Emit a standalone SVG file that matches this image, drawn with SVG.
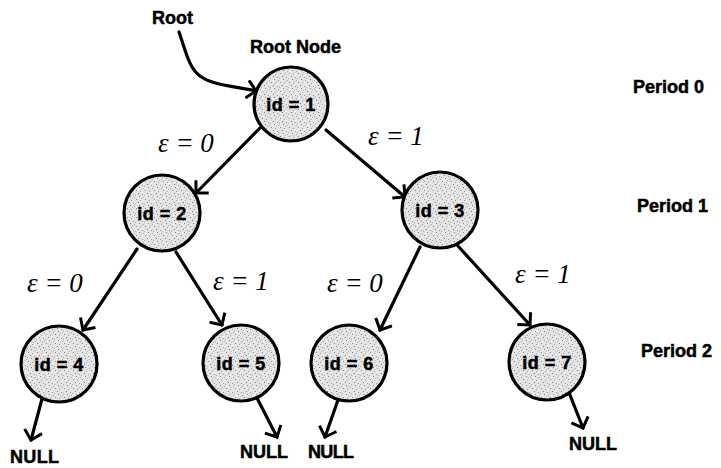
<svg xmlns="http://www.w3.org/2000/svg" width="721" height="468" viewBox="0 0 721 468">
  <defs>
    <!-- speckled grey fill for the tree nodes -->
    <pattern id="speckle" width="9" height="9" patternUnits="userSpaceOnUse">
      <rect width="9" height="9" fill="#e4e4e4"/>
      <rect x="1" y="1" width="1" height="1" fill="#8a8a8a"/>
      <rect x="5" y="2" width="1" height="1" fill="#a0a0a0"/>
      <rect x="3" y="4" width="1" height="1" fill="#7a7a7a"/>
      <rect x="7" y="5" width="1" height="1" fill="#999"/>
      <rect x="0" y="6" width="1" height="1" fill="#b0b0b0"/>
      <rect x="4" y="7" width="1" height="1" fill="#888"/>
      <rect x="8" y="8" width="1" height="1" fill="#a8a8a8"/>
      <rect x="6" y="0" width="1" height="1" fill="#bbb"/>
      <rect x="2" y="8" width="1" height="1" fill="#f8f8f8"/>
      <rect x="7" y="3" width="1" height="1" fill="#fafafa"/>
    </pattern>
    <!-- open right-angled arrowhead -->
    <marker id="head" markerUnits="userSpaceOnUse" viewBox="-1 -1 12 20" refX="9" refY="9" markerWidth="12" markerHeight="20" orient="auto">
      <path d="M0,0 L9,9 L0,18" fill="none" stroke="#000" stroke-width="3" stroke-linejoin="miter"/>
    </marker>
    <style>
      .node circle { fill: url(#speckle); stroke: #000; stroke-width: 3.2; }
      .node text, .lbl { font-family: "Liberation Sans", Arial, sans-serif; font-weight: bold; fill: #000; stroke: #000; stroke-width: 0.5; }
      .node text { font-size: 18px; text-anchor: middle; letter-spacing: 0.5px; }
      .lbl { font-size: 18px; }
      .eps { font-family: "Liberation Serif", "Times New Roman", serif; font-style: italic; font-size: 27px; fill: #000; }
      .edge { fill: none; stroke: #000; stroke-width: 3.2; stroke-linecap: round; marker-end: url(#head); }
    </style>
  </defs>

  <rect width="721" height="468" fill="#fff"/>

  <!-- connectors -->
  <g id="connectors">
    <path class="edge" d="M179,32 C186,52 189,68 200,76 C212,85 232,86 256,91"/>
    <path class="edge" d="M260,128 L196,193"/>
    <path class="edge" d="M326,130 L405,197"/>
    <path class="edge" d="M137,249 L83,330"/>
    <path class="edge" d="M176,252 L222,325"/>
    <path class="edge" d="M420,247 L380,330"/>
    <path class="edge" d="M458,246 L530,325"/>
    <path class="edge" d="M42,399 L31,440"/>
    <path class="edge" d="M257,398 L277,437"/>
    <path class="edge" d="M338,400 L325,437"/>
    <path class="edge" d="M568,390 L583,428"/>
  </g>

  <!-- tree nodes -->
  <g id="node1" class="node"><circle cx="291" cy="104" r="37"/><text x="291" y="111">id = 1</text></g>
  <g id="node2" class="node"><circle cx="162" cy="213" r="38"/><text x="162" y="220">id = 2</text></g>
  <g id="node3" class="node"><circle cx="440" cy="210" r="38"/><text x="440" y="217">id = 3</text></g>
  <g id="node4" class="node"><circle cx="59" cy="364" r="38"/><text x="59" y="371">id = 4</text></g>
  <g id="node5" class="node"><circle cx="241" cy="363" r="38"/><text x="241" y="370">id = 5</text></g>
  <g id="node6" class="node"><circle cx="349" cy="363" r="38"/><text x="349" y="370">id = 6</text></g>
  <g id="node7" class="node"><circle cx="547" cy="362" r="38"/><text x="547" y="369">id = 7</text></g>

  <!-- labels -->
  <g id="labels">
    <text class="lbl" x="152" y="24">Root</text>
    <text class="lbl" x="250" y="53" font-size="17">Root Node</text>
    <text class="lbl" x="633" y="93">Period 0</text>
    <text class="lbl" x="637" y="212">Period 1</text>
    <text class="lbl" x="641" y="357">Period 2</text>
    <text class="lbl" x="10" y="463" textLength="49">NULL</text>
    <text class="lbl" x="240" y="458" textLength="48">NULL</text>
    <text class="lbl" x="308" y="458" textLength="46">NULL</text>
    <text class="lbl" x="569" y="450" textLength="48">NULL</text>
  </g>

  <!-- branch labels -->
  <g id="branch-labels">
    <text class="eps" x="158" y="152">ε = 0</text>
    <text class="eps" x="368" y="145">ε = 1</text>
    <text class="eps" x="27" y="292">ε = 0</text>
    <text class="eps" x="213" y="290">ε = 1</text>
    <text class="eps" x="327" y="292">ε = 0</text>
    <text class="eps" x="515" y="283">ε = 1</text>
  </g>
</svg>
